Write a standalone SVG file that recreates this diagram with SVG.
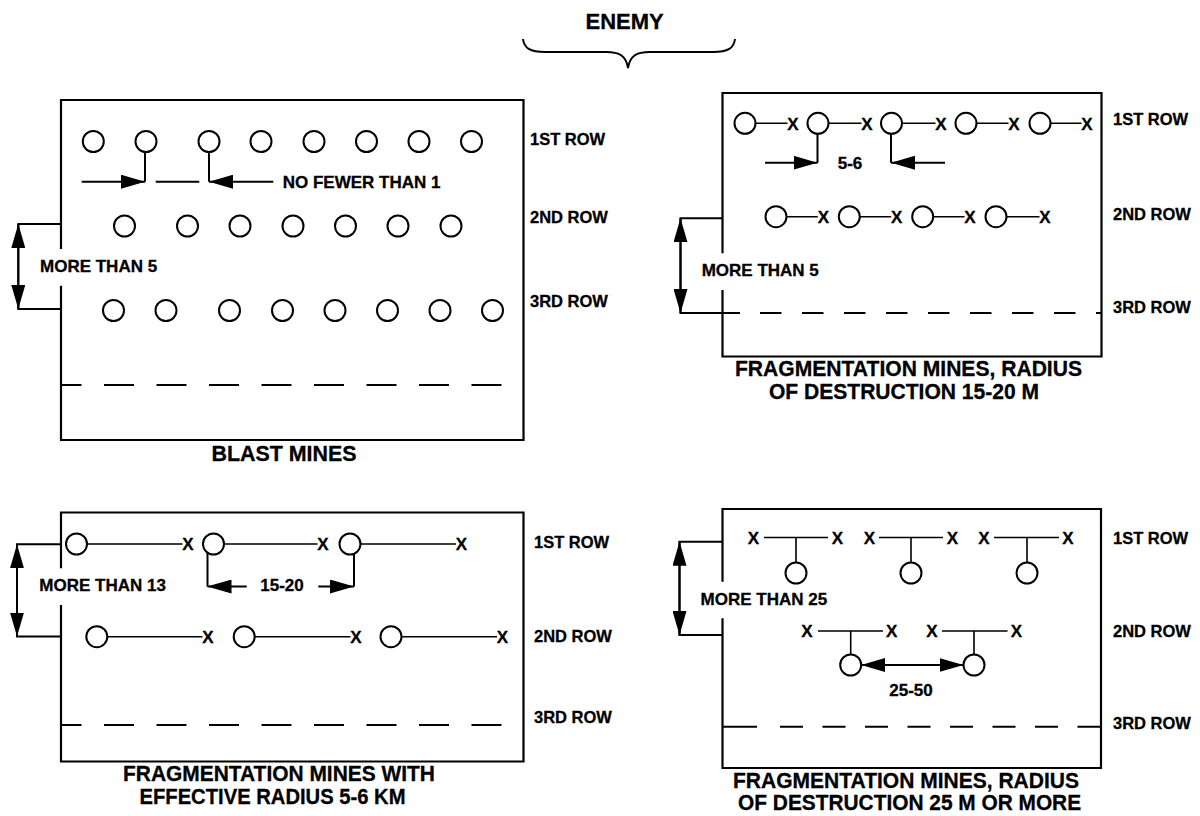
<svg xmlns="http://www.w3.org/2000/svg" width="1200" height="816" viewBox="0 0 1200 816">
<defs>
<style>
.t{font-family:"Liberation Sans",Arial,Helvetica,sans-serif;font-weight:bold;fill:#000;stroke:#000;stroke-width:0.3}
.lbl{font-size:17px}
.row{font-size:16.5px}
.cap{font-size:22px;text-anchor:middle}
.x{font-size:17px;text-anchor:middle}
.mid{text-anchor:middle}
.box{fill:none;stroke:#000;stroke-width:2.2}
.mine{fill:#fff;stroke:#000;stroke-width:2}
.wire{fill:none;stroke:#000;stroke-width:1.6}
.dim{fill:none;stroke:#000;stroke-width:2}
.arr{marker-end:url(#ah)}
.dbl{marker-start:url(#ah);marker-end:url(#ah)}
.d1{fill:none;stroke:#000;stroke-width:2;stroke-dasharray:30 22.5;stroke-dashoffset:9.5}
.d2{fill:none;stroke:#000;stroke-width:2;stroke-dasharray:21.5 20.5}
.d3{fill:none;stroke:#000;stroke-width:2;stroke-dasharray:23 19.5}
</style>
<marker id="ah" viewBox="0 0 24 14" refX="24" refY="7" markerWidth="24" markerHeight="14" markerUnits="userSpaceOnUse" orient="auto-start-reverse"><path d="M0,0L24,7L0,14z" fill="#000"/></marker>
</defs>
<rect width="1200" height="816" fill="#fff"/>

<g id="enemy">
<text class="t mid" x="624.7" y="28.5" font-size="22">ENEMY</text>
<path class="dim" d="M523,39C524,48 530,52 545,52L606,52C620,52 626,56 628,68C630,56 636,52 650,52L713,52C728,52 734,48 735,39"/>
</g>

<!-- Top-left: blast mines -->
<g id="panel-blast">
<path class="box" d="M61,249V100H523.5V440H61V285.7"/>
<path class="d1" d="M61,385H523.5"/>
<g id="blast-row1">
<circle class="mine" cx="93.3" cy="141.5" r="10.5"/><circle class="mine" cx="146" cy="141.5" r="10.5"/><circle class="mine" cx="209" cy="141.5" r="10.5"/><circle class="mine" cx="261" cy="141.5" r="10.5"/><circle class="mine" cx="314" cy="141.5" r="10.5"/><circle class="mine" cx="366.5" cy="141.5" r="10.5"/><circle class="mine" cx="419" cy="141.5" r="10.5"/><circle class="mine" cx="471.5" cy="141.5" r="10.5"/>
</g>
<g id="blast-row2">
<circle class="mine" cx="124.5" cy="226" r="10.5"/><circle class="mine" cx="187.5" cy="226" r="10.5"/><circle class="mine" cx="240" cy="226" r="10.5"/><circle class="mine" cx="293" cy="226" r="10.5"/><circle class="mine" cx="345.5" cy="226" r="10.5"/><circle class="mine" cx="398" cy="226" r="10.5"/><circle class="mine" cx="451" cy="226" r="10.5"/>
</g>
<g id="blast-row3">
<circle class="mine" cx="113.5" cy="310.5" r="10.5"/><circle class="mine" cx="166" cy="310.5" r="10.5"/><circle class="mine" cx="229.5" cy="310.5" r="10.5"/><circle class="mine" cx="282.5" cy="310.5" r="10.5"/><circle class="mine" cx="335" cy="310.5" r="10.5"/><circle class="mine" cx="387.5" cy="310.5" r="10.5"/><circle class="mine" cx="440" cy="310.5" r="10.5"/><circle class="mine" cx="492.5" cy="310.5" r="10.5"/>
</g>
<text class="t row" x="530" y="145">1ST ROW</text>
<text class="t row" x="530" y="223">2ND ROW</text>
<text class="t row" x="530" y="307">3RD ROW</text>
<text class="t cap" x="284" y="461" textLength="145" lengthAdjust="spacingAndGlyphs">BLAST MINES</text>
</g>

<!-- Top-right: fragmentation 15-20 m -->
<g id="panel-frag-15-20">
<path class="box" d="M722.5,253.3V93H1101.5V356.5H722.5V290"/>
<path class="d2" d="M760,313H1101.5"/>
<g id="frag1-row1">
<path class="wire" d="M755.5,123.3H787.5M828.5,123.3H861.5M902,123.3H935.5M976.5,123.3H1008.5M1050.5,123.3H1081.5"/>
<circle class="mine" cx="745" cy="123.3" r="10.5"/><circle class="mine" cx="818" cy="123.3" r="10.5"/><circle class="mine" cx="891.5" cy="123.3" r="10.5"/><circle class="mine" cx="966" cy="123.3" r="10.5"/><circle class="mine" cx="1040" cy="123.3" r="10.5"/>
<text class="t x" x="793" y="129.5">X</text><text class="t x" x="867" y="129.5">X</text><text class="t x" x="941" y="129.5">X</text><text class="t x" x="1014" y="129.5">X</text><text class="t x" x="1087" y="129.5">X</text>
</g>
<g id="frag1-row2">
<path class="wire" d="M786.5,216.7H817.8M860,216.7H891.2M933.2,216.7H964.5M1006.5,216.7H1039.5"/>
<circle class="mine" cx="776" cy="216.7" r="10.5"/><circle class="mine" cx="849.3" cy="216.7" r="10.5"/><circle class="mine" cx="922.7" cy="216.7" r="10.5"/><circle class="mine" cx="996" cy="216.7" r="10.5"/>
<text class="t x" x="823.3" y="222.9">X</text><text class="t x" x="896.7" y="222.9">X</text><text class="t x" x="970" y="222.9">X</text><text class="t x" x="1045" y="222.9">X</text>
</g>
<text class="t row" x="1113" y="124.5">1ST ROW</text>
<text class="t row" x="1113" y="220">2ND ROW</text>
<text class="t row" x="1113" y="313">3RD ROW</text>
<text class="t cap" x="908.5" y="375.5" textLength="347" lengthAdjust="spacingAndGlyphs">FRAGMENTATION MINES, RADIUS</text>
<text class="t cap" x="904" y="398.5" textLength="270" lengthAdjust="spacingAndGlyphs">OF DESTRUCTION 15-20 M</text>
</g>

<!-- Bottom-left: fragmentation 5-6 km -->
<g id="panel-frag-5-6">
<path class="box" d="M61,568.3V512.5H523.5V761.5H61V605"/>
<path class="d1" d="M61,725H523.5"/>
<g id="frag2-row1">
<path class="wire" d="M87,544H182.5M224,544H317.5M360.5,544H456"/>
<circle class="mine" cx="76.5" cy="544" r="10.5"/><circle class="mine" cx="213.5" cy="544" r="10.5"/><circle class="mine" cx="350" cy="544" r="10.5"/>
<text class="t x" x="188" y="550.2">X</text><text class="t x" x="323" y="550.2">X</text><text class="t x" x="461.5" y="550.2">X</text>
</g>
<g id="frag2-row2">
<path class="wire" d="M107.3,636.7H202.5M254.7,636.7H350.5M401.5,636.7H497"/>
<circle class="mine" cx="96.8" cy="636.7" r="10.5"/><circle class="mine" cx="244.2" cy="636.7" r="10.5"/><circle class="mine" cx="391" cy="636.7" r="10.5"/>
<text class="t x" x="208" y="642.9">X</text><text class="t x" x="356" y="642.9">X</text><text class="t x" x="502.5" y="642.9">X</text>
</g>
<text class="t row" x="534" y="548">1ST ROW</text>
<text class="t row" x="534" y="642">2ND ROW</text>
<text class="t row" x="534" y="723">3RD ROW</text>
<text class="t cap" x="279" y="780.7" textLength="312" lengthAdjust="spacingAndGlyphs">FRAGMENTATION MINES WITH</text>
<text class="t cap" x="272.5" y="803.5" textLength="266" lengthAdjust="spacingAndGlyphs">EFFECTIVE RADIUS 5-6 KM</text>
</g>

<!-- Bottom-right: fragmentation 25 m or more -->
<g id="panel-frag-25">
<path class="box" d="M722.5,581.7V509H1101V768H722.5V618.3"/>
<path class="dim" d="M722.5,726.7H757"/>
<path class="d3" d="M780,726.7H1101"/>
<g id="frag3-row1">
<path class="wire" d="M764,537.5H828M879,537.5H943M994,537.5H1059"/>
<path class="wire" d="M796,537.5V562.5M911,537.5V562.5M1027,537.5V562.5"/>
<circle class="mine" cx="796" cy="573" r="10.5"/><circle class="mine" cx="911" cy="573" r="10.5"/><circle class="mine" cx="1027" cy="573" r="10.5"/>
<text class="t x" x="753.5" y="543.7">X</text><text class="t x" x="837.5" y="543.7">X</text><text class="t x" x="869.5" y="543.7">X</text><text class="t x" x="952.5" y="543.7">X</text><text class="t x" x="984" y="543.7">X</text><text class="t x" x="1068" y="543.7">X</text>
</g>
<g id="frag3-row2">
<path class="wire" d="M818,631H883M942,631H1007.5"/>
<path class="wire" d="M850.7,631V654.5M974,631V654.5"/>
<circle class="mine" cx="850.7" cy="665" r="10.5"/><circle class="mine" cx="974" cy="665" r="10.5"/>
<text class="t x" x="807" y="637.2">X</text><text class="t x" x="891.7" y="637.2">X</text><text class="t x" x="932" y="637.2">X</text><text class="t x" x="1016.5" y="637.2">X</text>
</g>
<text class="t row" x="1113" y="543.5">1ST ROW</text>
<text class="t row" x="1113" y="637">2ND ROW</text>
<text class="t row" x="1113" y="729">3RD ROW</text>
<text class="t cap" x="906" y="787.5" textLength="346" lengthAdjust="spacingAndGlyphs">FRAGMENTATION MINES, RADIUS</text>
<text class="t cap" x="909.6" y="810" textLength="343" lengthAdjust="spacingAndGlyphs">OF DESTRUCTION 25 M OR MORE</text>
</g>

<g id="connectors">
<!-- top-left -->
<path class="dim" d="M61,224H18.3V309H61"/>
<path class="dim dbl" d="M18.3,224V309"/>
<text class="t lbl" x="40" y="272">MORE THAN 5</text>
<path class="dim" d="M145,152V181.7M209,152V181.7M155.7,181.7H199.3"/>
<path class="dim arr" d="M81.7,181.7H145"/>
<path class="dim arr" d="M273.3,181.7H209"/>
<text class="t lbl" x="282.7" y="187.5">NO FEWER THAN 1</text>
<!-- top-right -->
<path class="dim" d="M722.5,218.3H680.5V313H740"/>
<path class="dim dbl" d="M680.5,218.3V313"/>
<text class="t lbl" x="701.7" y="276">MORE THAN 5</text>
<path class="dim" d="M817.5,133.8V162.7M891,134V162.7"/>
<path class="dim arr" d="M765,162.7H817.5"/>
<path class="dim arr" d="M945,162.7H891"/>
<text class="t lbl mid" x="850" y="169.3">5-6</text>
<!-- bottom-left -->
<path class="dim" d="M61,544.3H17V636.5H61"/>
<path class="dim dbl" d="M17,544.3V636.5"/>
<text class="t lbl" x="39.3" y="590.7">MORE THAN 13</text>
<path class="dim" d="M207.5,552.6V586.5M354,553.7V586.5"/>
<path class="dim arr" d="M246.7,586.5H207.5"/>
<path class="dim arr" d="M318.3,586.5H354"/>
<text class="t lbl mid" x="282" y="591">15-20</text>
<!-- bottom-right -->
<path class="dim" d="M722.5,541.7H679.5V635H722.5"/>
<path class="dim dbl" d="M679.5,541.7V635"/>
<text class="t lbl" x="700.6" y="605">MORE THAN 25</text>
<path class="dim dbl" d="M861.2,665H963.5"/>
<text class="t lbl mid" x="911" y="695.5">25-50</text>
</g>
</svg>
